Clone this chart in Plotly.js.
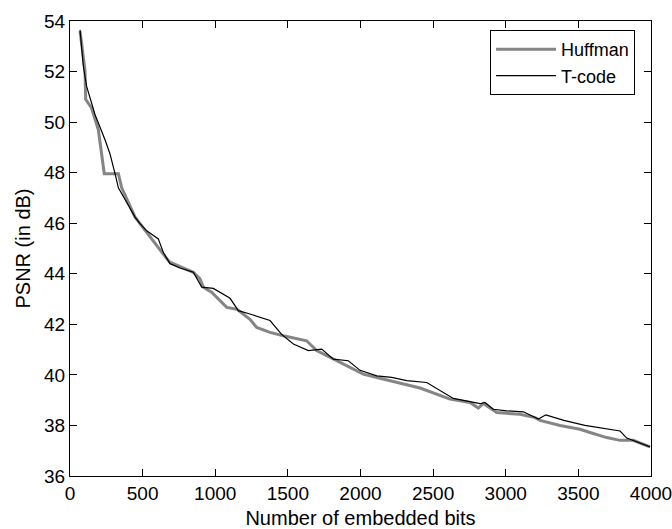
<!DOCTYPE html>
<html>
<head>
<meta charset="utf-8">
<script src="https://cdn.plot.ly/plotly-3.0.1.min.js"></script>
<style>html,body{margin:0;padding:0;background:#fff;}#chart{width:672px;height:529px;}</style>
</head>
<body>
<div id="chart"></div>
<script>
// Huffman series (gray)
const huffmanX = [69,103,108,149,195,207,236,333,356,448,482,551,620,666,688,826,849,895,918,975,1079,1148,1239,1285,1377,1469,1629,1698,1813,1928,2019,2112,2203,2318,2410,2616,2754,2811,2846,2938,3098,3202,3236,3374,3511,3580,3695,3787,3878,3993];
const huffmanY = [53.6,52.06,50.9,50.55,49.7,49.15,47.96,47.96,47.4,46.24,45.98,45.45,44.92,44.6,44.46,44.13,44.06,43.8,43.47,43.27,42.67,42.6,42.2,41.88,41.68,41.55,41.35,40.96,40.62,40.29,40.03,39.9,39.77,39.63,39.48,39.04,38.91,38.69,38.87,38.51,38.44,38.31,38.2,38.0,37.85,37.72,37.52,37.41,37.41,37.15];
// T-code series (black)
const tcodeX = [69,92,115,172,241,275,310,333,448,482,528,608,642,688,757,849,907,987,1102,1159,1239,1377,1457,1538,1641,1733,1813,1916,1997,2112,2215,2318,2456,2639,2823,2857,2914,3007,3121,3225,3276,3400,3545,3729,3787,3833,3993];
const tcodeY = [53.65,52.2,51.4,50.3,49.3,48.75,47.96,47.4,46.24,45.98,45.7,45.38,44.85,44.4,44.23,44.06,43.47,43.42,43.03,42.54,42.41,42.15,41.6,41.22,40.96,41.02,40.62,40.56,40.18,39.96,39.9,39.77,39.7,39.07,38.86,38.91,38.64,38.58,38.54,38.25,38.42,38.2,38.0,37.85,37.78,37.5,37.15];
const seriesNames = ["Huffman", "T-code"];
const xTitle = "Number of embedded bits";
const yTitle = "PSNR (in dB)";

const font = "Liberation Sans, Arial, sans-serif";

const traces = [
  {x: huffmanX, y: huffmanY, name: seriesNames[0], type: "scatter", mode: "lines",
   line: {color: "#858585", width: 3}},
  {x: tcodeX, y: tcodeY, name: seriesNames[1], type: "scatter", mode: "lines",
   line: {color: "#000000", width: 1.2}}
];

const axisCommon = {
  showline: true, linecolor: "#000", linewidth: 1, mirror: "ticks",
  ticks: "inside", ticklen: 7, tickcolor: "#000", showgrid: false, zeroline: false,
  ticklabeloverflow: "allow",
  tickfont: {family: font, size: 19, color: "#000"}
};

const layout = {
  width: 672, height: 529,
  margin: {l: 70, r: 21, t: 21, b: 53},
  paper_bgcolor: "#fff", plot_bgcolor: "#fff",
  showlegend: true,
  legend: {x: 0.723, y: 0.98, xanchor: "left", yanchor: "top",
    bordercolor: "#000", borderwidth: 1, bgcolor: "#fff",
    font: {family: font, size: 18, color: "#000"}, itemwidth: 60, tracegroupgap: 0},
  xaxis: Object.assign({}, axisCommon, {range: [0, 4000], dtick: 500, tick0: 0,
    title: {text: xTitle, font: {family: font, size: 20, color: "#000"}, standoff: 8}}),
  yaxis: Object.assign({}, axisCommon, {range: [36, 54], dtick: 2, tick0: 36,
    title: {text: yTitle, font: {family: font, size: 20, color: "#000"}, standoff: 8}})
};

Plotly.newPlot("chart", traces, layout, {displayModeBar: false, staticPlot: true});
</script>
</body>
</html>
